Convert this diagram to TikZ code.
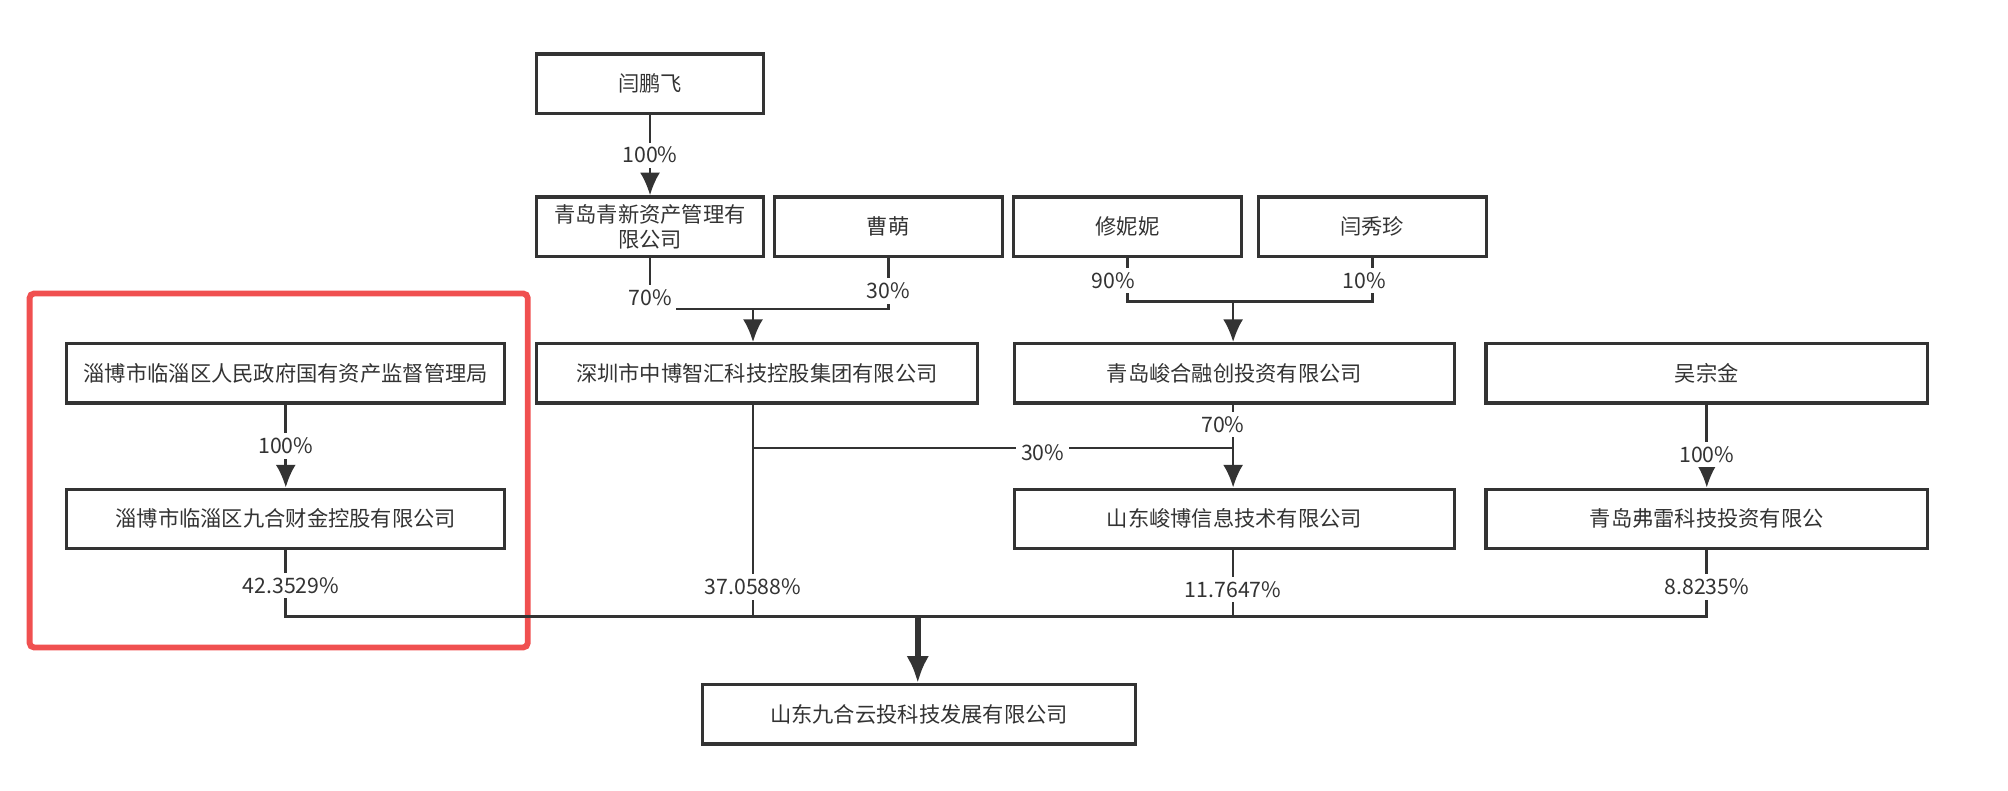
\documentclass[tikz,border=0pt]{standalone}
\usepackage{fontspec}
\setmainfont{Noto Sans CJK SC}
\usetikzlibrary{arrows.meta}
\definecolor{mgray}{RGB}{51,51,51}
\definecolor{mred}{RGB}{240,80,80}

\begin{document}
\begin{tikzpicture}[x=0.01cm, y=-0.01cm, font=\fontsize{4.7}{5.6}\selectfont, text=mgray,
    box/.style={rectangle, draw=mgray, line width=0.7pt, minimum height=0.46cm, inner sep=0pt, align=center},
    pct/.style={fill=white, inner sep=1pt},
    link/.style={draw=mgray, line width=0.6pt},
    arr/.style={link, -{Latex[length=5pt, width=4.4pt]}}]
    \useasboundingbox (0,0) rectangle (1560,614);
    \draw[mred, line width=1.3pt, rounded corners=1pt] (23,228) rectangle (410,503);

    \node[box, minimum width=1.76cm] (ypf)   at (505,65)  {闫鹏飞};
    \node[box, minimum width=1.76cm] (qxzc)  at (505,176) {青岛青新资产管理有\\限公司};
    \node[box, minimum width=1.77cm] (cm)    at (690,176) {曹萌};
    \node[box, minimum width=1.77cm] (xnn)   at (876,176) {修妮妮};
    \node[box, minimum width=1.77cm] (yxz)   at (1066,176) {闫秀珍};
    \node[box, minimum width=3.40cm] (zbgzj) at (222,290) {淄博市临淄区人民政府国有资产监督管理局};
    \node[box, minimum width=3.42cm] (szzb)  at (588,290) {深圳市中博智汇科技控股集团有限公司};
    \node[box, minimum width=3.42cm] (qdjh)  at (959,290) {青岛峻合融创投资有限公司};
    \node[box, minimum width=3.43cm] (wzj)   at (1326,290) {吴宗金};
    \node[box, minimum width=3.40cm] (jhcj)  at (222,403) {淄博市临淄区九合财金控股有限公司};
    \node[box, minimum width=3.42cm] (sdjb)  at (959,403) {山东峻博信息技术有限公司};
    \node[box, minimum width=3.43cm] (qdfl)  at (1326,403) {青岛弗雷科技投资有限公};
    \node[box, minimum width=3.36cm] (sdjh)  at (714,555) {山东九合云投科技发展有限公司};

    \coordinate (jsz) at (585,240);
    \coordinate (jqd) at (958,234);
    \coordinate (jsd) at (958,348);
    \coordinate (bus) at (713,479);

    \draw[arr] (ypf) -- (qxzc) node[pct, pos=.5] {100\%};
    \draw[link] (qxzc.south) |- (jsz) -| (cm.south);
    \draw[arr] (jsz) -- (szzb.north -| jsz);
    \draw[link] (xnn.south) |- (jqd) -| (yxz.south);
    \draw[arr] (jqd) -- (qdjh.north -| jqd);
    \draw[arr] (zbgzj) -- (jhcj) node[pct, pos=.5] {100\%};
    \draw[link] (szzb.south -| jsz) |- (jsd);
    \draw[arr] (qdjh.south -| jsd) -- (sdjb.north -| jsd);
    \draw[arr] (wzj) -- (qdfl) node[pct, pos=.6] {100\%};
    \draw[link] (jhcj.south) |- (bus) -| (qdfl.south);
    \draw[link] (szzb.south -| jsz) -- (jsz |- bus);
    \draw[link] (sdjb.south -| jsd) -- (jsd |- bus);
    \draw[link, line width=1.4pt, -{Latex[length=6pt, width=5pt]}] (bus) -- (sdjh.north -| bus);

    \node[pct] (p70a) at (505,231) {70\%};
    \node[pct] (p30a) at (690,226) {30\%};
    \node[pct] (p90)  at (865,218) {90\%};
    \node[pct] (p10)  at (1060,218) {10\%};
    \node[pct] (p30b) at (810,352) {30\%};
    \node[pct] (p70b) at (950,330) {70\%};
    \node[pct] (p42)  at (226,455) {42.3529\%};
    \node[pct] (p37)  at (585,456) {37.0588\%};
    \node[pct] (p11)  at (958,458) {11.7647\%};
    \node[pct] (p8)   at (1326,456) {8.8235\%};
\end{tikzpicture}
\end{document}
